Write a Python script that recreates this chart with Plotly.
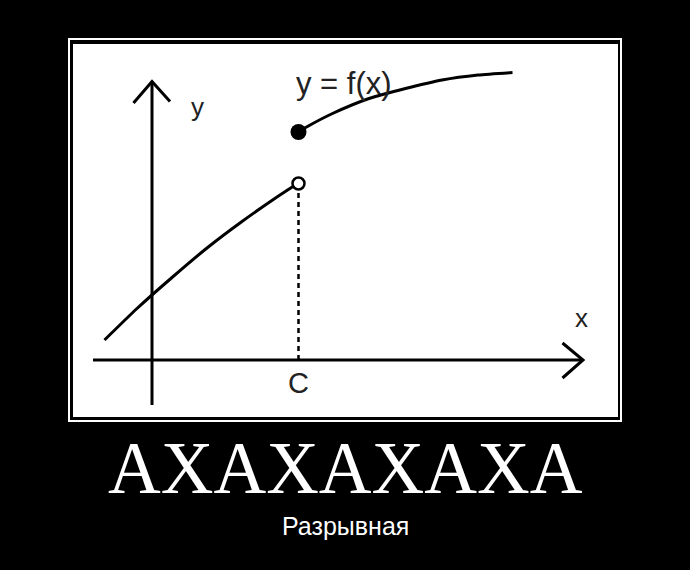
import plotly.graph_objects as go

# ---- data (math units; origin at the axes crossing) ----
C = 2.93
left_x = [-0.95, -0.30, 0.40, 1.10, 1.80, 2.50, 2.82]
left_y = [0.40, 1.03, 1.65, 2.24, 2.77, 3.26, 3.47]
right_x = [2.93, 3.11, 3.61, 4.34, 5.07, 5.80, 6.52, 7.21]
right_y = [4.56, 4.67, 4.93, 5.23, 5.43, 5.60, 5.70, 5.75]
open_pt = [C, 3.53]
closed_pt = [C, 4.56]
x_axis_x = [-1.18, 8.62]
y_axis_y = [-0.90, 5.57]
x_arrow_x = [8.21, 8.62, 8.21]
x_arrow_y = [0.34, 0.0, -0.36]
y_arrow_x = [-0.37, 0.0, 0.36]
y_arrow_y = [5.14, 5.57, 5.17]
labels = ["y", "x", "C", "y = f(x)"]
label_x = [0.90, 8.58, 2.93, 3.84]
label_y = [5.06, 0.84, -0.46, 5.54]
label_size = [26, 26, 29, 31]
title_text = "АХАХАХАХА"
subtitle_text = "Разрывная"

W, H = 690, 570
ox, oy, s = 152, 360, 50.0  # pixel origin and px/unit

fig = go.Figure()
line = dict(color="black", width=3)
fig.add_trace(go.Scatter(x=x_axis_x, y=[0, 0], mode="lines", line=line))
fig.add_trace(go.Scatter(x=[0, 0], y=y_axis_y, mode="lines", line=line))
fig.add_trace(go.Scatter(x=x_arrow_x, y=x_arrow_y, mode="lines", line=line))
fig.add_trace(go.Scatter(x=y_arrow_x, y=y_arrow_y, mode="lines", line=line))
fig.add_trace(go.Scatter(x=[C, C], y=[0, open_pt[1] - 0.13], mode="lines",
                         line=dict(color="black", width=2.5, dash="5px,4px")))
fig.add_trace(go.Scatter(x=left_x, y=left_y, mode="lines",
                         line=dict(color="black", width=3, shape="spline", smoothing=0.6)))
fig.add_trace(go.Scatter(x=right_x, y=right_y, mode="lines",
                         line=dict(color="black", width=3, shape="spline", smoothing=0.6)))
fig.add_trace(go.Scatter(x=[open_pt[0]], y=[open_pt[1]], mode="markers",
                         marker=dict(size=12, color="white", line=dict(color="black", width=2.5))))
fig.add_trace(go.Scatter(x=[closed_pt[0]], y=[closed_pt[1]], mode="markers",
                         marker=dict(size=16, color="black")))

for t, lx, ly, fs in zip(labels, label_x, label_y, label_size):
    fig.add_annotation(x=lx, y=ly, text=t, showarrow=False,
                       font=dict(family="Liberation Sans", size=fs, color="#222"))

fig.add_annotation(xref="paper", yref="paper", x=0.5, y=1 - 468 / H, text=title_text,
                   showarrow=False, yanchor="middle",
                   font=dict(family="Liberation Serif", size=73, color="white"))
fig.add_annotation(xref="paper", yref="paper", x=0.5, y=1 - 526 / H, text=subtitle_text,
                   showarrow=False, yanchor="middle",
                   font=dict(family="Liberation Sans", size=25, color="white"))

fig.add_shape(type="rect", xref="paper", yref="paper", layer="below",
              x0=69 / W, x1=621 / W, y0=1 - 421 / H, y1=1 - 39 / H,
              line=dict(color="white", width=2), fillcolor="black")
fig.add_shape(type="rect", xref="paper", yref="paper", layer="below",
              x0=73 / W, x1=618 / W, y0=1 - 417 / H, y1=1 - 44 / H,
              line=dict(width=0), fillcolor="white")

fig.update_layout(
    width=W, height=H, margin=dict(l=0, r=0, t=0, b=0),
    paper_bgcolor="black", plot_bgcolor="black", showlegend=False,
    xaxis=dict(range=[-ox / s, (W - ox) / s], visible=False, fixedrange=True),
    yaxis=dict(range=[(oy - H) / s, oy / s], visible=False, fixedrange=True),
)
fig.write_html("out.html", config={"displayModeBar": False},
               post_script="document.body.style.margin='0';document.body.style.background='black';")
